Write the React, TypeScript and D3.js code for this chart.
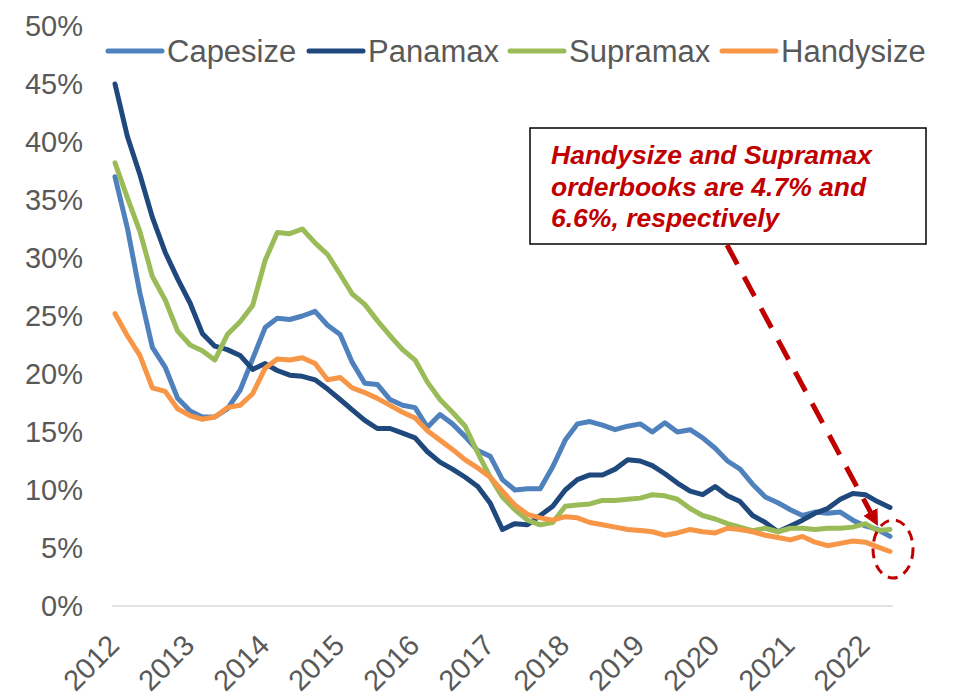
import React, { useEffect, useRef } from 'react'
import * as d3 from 'd3'

// bimonthly readings, Jan 2012 .. May 2022 (% of fleet)
const dates = d3.timeMonth.every(2)!.range(new Date(2012, 0, 1), new Date(2022, 5, 1))

const capesize = [37.0, 32.6, 27.0, 22.3, 20.6, 17.9, 16.8, 16.3, 16.3, 17.0, 18.6, 21.3, 24.0, 24.8, 24.7, 25.0,
  25.4, 24.2, 23.4, 21.0, 19.2, 19.1, 17.8, 17.3, 17.1, 15.4, 16.5, 15.7, 14.6, 13.4, 12.9, 10.9,
  10.0, 10.1, 10.1, 12.0, 14.3, 15.7, 15.9, 15.6, 15.2, 15.5, 15.7, 15.0, 15.8, 15.0, 15.2, 14.5,
  13.6, 12.5, 11.8, 10.5, 9.4, 8.9, 8.3, 7.8, 8.1, 8.0, 8.1, 7.4, 6.9, 6.6, 6.0]
const panamax = [45.0, 40.5, 37.2, 33.5, 30.5, 28.2, 26.1, 23.5, 22.4, 22.1, 21.6, 20.4, 20.9, 20.3, 19.9, 19.8,
  19.5, 18.7, 17.8, 16.9, 16.0, 15.3, 15.3, 14.9, 14.5, 13.3, 12.4, 11.8, 11.1, 10.3, 8.85, 6.6,
  7.1, 7.0, 7.8, 8.6, 10.0, 10.9, 11.3, 11.3, 11.8, 12.6, 12.5, 12.1, 11.4, 10.6, 9.9, 9.6,
  10.3, 9.5, 9.0, 7.8, 7.2, 6.4, 6.9, 7.4, 8.0, 8.4, 9.2, 9.7, 9.6, 9.0, 8.5]
const supramax = [38.2, 35.2, 32.3, 28.4, 26.4, 23.7, 22.5, 22.0, 21.2, 23.4, 24.5, 25.9, 29.8, 32.2, 32.1, 32.5,
  31.3, 30.3, 28.6, 26.9, 26.0, 24.6, 23.3, 22.1, 21.2, 19.3, 17.8, 16.7, 15.5, 13.2, 11.1, 9.4,
  8.3, 7.4, 7.0, 7.2, 8.6, 8.7, 8.8, 9.1, 9.1, 9.2, 9.3, 9.6, 9.5, 9.2, 8.4, 7.8,
  7.5, 7.1, 6.8, 6.5, 6.7, 6.4, 6.7, 6.7, 6.6, 6.7, 6.7, 6.8, 7.1, 6.5, 6.6]
const handysize = [25.2, 23.3, 21.6, 18.8, 18.5, 17.0, 16.4, 16.1, 16.3, 17.1, 17.3, 18.3, 20.5, 21.3, 21.2, 21.4,
  20.9, 19.5, 19.7, 18.8, 18.4, 17.9, 17.3, 16.7, 16.2, 15.1, 14.3, 13.5, 12.6, 11.9, 11.1, 9.9,
  8.7, 7.9, 7.6, 7.4, 7.7, 7.6, 7.2, 7.0, 6.8, 6.6, 6.5, 6.4, 6.1, 6.3, 6.6, 6.4,
  6.3, 6.7, 6.6, 6.4, 6.1, 5.9, 5.7, 6.0, 5.5, 5.2, 5.4, 5.6, 5.5, 5.1, 4.7]

const seriesNames = ['Capesize', 'Panamax', 'Supramax', 'Handysize']
const seriesColors = ['#4F81BD', '#1F497D', '#9BBB59', '#F79646']
const yTicks = [0, 5, 10, 15, 20, 25, 30, 35, 40, 45, 50]
const yearLabels = ['2012', '2013', '2014', '2015', '2016', '2017', '2018', '2019', '2020', '2021', '2022']
const noteLines = ['Handysize and Supramax', 'orderbooks are 4.7% and', '6.6%, respectively']

const FONT = '"Liberation Sans", Arial, sans-serif'

export default function App() {
  const ref = useRef<SVGSVGElement>(null)

  useEffect(() => {
    const svg = d3.select(ref.current)
    svg.selectAll('*').remove()

    const x = d3.scaleTime()
      .domain([new Date(2012, 0, 1), new Date(2022, 4, 1)])
      .range([115, 890])
    const y = d3.scaleLinear().domain([0, 50]).range([606, 26])

    // y labels
    svg.append('g').selectAll('text')
      .data(yTicks)
      .enter()
      .append('text')
      .attr('x', 83)
      .attr('y', d => y(d))
      .attr('dy', '0.36em')
      .attr('text-anchor', 'end')
      .attr('font-family', FONT)
      .attr('font-size', 29)
      .attr('fill', '#595959')
      .text(d => d + '%')

    // baseline axis
    svg.append('line')
      .attr('x1', 112).attr('x2', 893)
      .attr('y1', y(0)).attr('y2', y(0))
      .attr('stroke', '#D9D9D9').attr('stroke-width', 1.5)

    // year labels, rotated
    svg.append('g').selectAll('text')
      .data(yearLabels)
      .enter()
      .append('text')
      .attr('transform', d => 'translate(' + (x(new Date(+d, 0, 1)) + 6) + ',647) rotate(-45)')
      .attr('text-anchor', 'end')
      .attr('font-family', FONT)
      .attr('font-size', 29)
      .attr('fill', '#595959')
      .text(d => d)

    // lines
    const all = [capesize, panamax, supramax, handysize]
    const line = d3.line<number>()
      .x((d, i) => x(dates[i]))
      .y(d => y(d))
    all.forEach((vals, k) => {
      svg.append('path')
        .attr('d', line(vals))
        .attr('fill', 'none')
        .attr('stroke', seriesColors[k])
        .attr('stroke-width', 5)
        .attr('stroke-linejoin', 'round')
        .attr('stroke-linecap', 'round')
    })

    // legend
    const legX = [108, 309, 510, 722]
    const leg = svg.append('g')
    seriesNames.forEach((name, k) => {
      leg.append('line')
        .attr('x1', legX[k]).attr('x2', legX[k] + 54)
        .attr('y1', 51).attr('y2', 51)
        .attr('stroke', seriesColors[k]).attr('stroke-width', 5)
        .attr('stroke-linecap', 'round')
      leg.append('text')
        .attr('x', legX[k] + 59)
        .attr('y', 62)
        .attr('font-family', FONT)
        .attr('font-size', 31)
        .attr('fill', '#595959')
        .text(name)
    })

    // annotation box
    svg.append('rect')
      .attr('x', 530).attr('y', 128)
      .attr('width', 396).attr('height', 116)
      .attr('fill', '#fff')
      .attr('stroke', '#000').attr('stroke-width', 1.5)
    svg.append('g').selectAll('text')
      .data(noteLines)
      .enter()
      .append('text')
      .attr('x', 551)
      .attr('y', (d, i) => 164 + i * 31.5)
      .attr('font-family', FONT)
      .attr('font-size', 26.5)
      .attr('font-weight', 'bold')
      .attr('font-style', 'italic')
      .attr('fill', '#C00000')
      .text(d => d)

    // dashed arrow
    svg.append('defs').append('marker')
      .attr('id', 'head')
      .attr('markerUnits', 'userSpaceOnUse')
      .attr('markerWidth', 20).attr('markerHeight', 20)
      .attr('refX', 16).attr('refY', 8)
      .attr('orient', 'auto')
      .append('path')
      .attr('d', 'M0,0 L16,8 L0,16 Z')
      .attr('fill', '#C00000')
    svg.append('line')
      .attr('x1', 727).attr('y1', 245)
      .attr('x2', 878).attr('y2', 526)
      .attr('stroke', '#C00000')
      .attr('stroke-width', 5)
      .attr('stroke-dasharray', '22,14')
      .attr('marker-end', 'url(#head)')

    // dashed ellipse
    svg.append('ellipse')
      .attr('cx', 893).attr('cy', 549)
      .attr('rx', 20).attr('ry', 29)
      .attr('fill', 'none')
      .attr('stroke', '#C00000')
      .attr('stroke-width', 3)
      .attr('stroke-dasharray', '10,7')
  }, [])

  return <svg ref={ref} width={955} height={697}
    style={{ position: 'absolute', left: 0, top: 0, background: '#fff' }} />
}
